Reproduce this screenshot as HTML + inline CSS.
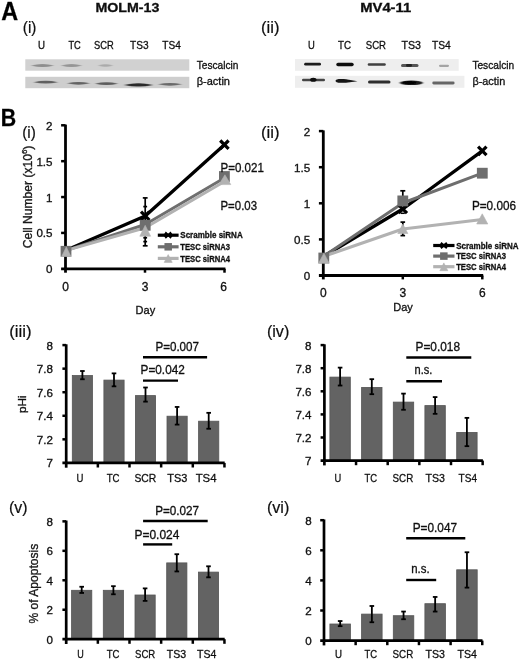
<!DOCTYPE html>
<html><head><meta charset="utf-8"><title>Figure</title>
<style>
html,body{margin:0;padding:0;background:#fff;}
svg{display:block;font-family:"Liberation Sans", sans-serif;}
text{stroke:#111;stroke-width:0.32px;}
text.pl{stroke-width:0.2px;}
</style></head>
<body>
<svg width="520" height="660" viewBox="0 0 520 660">
<defs><filter id="soft" x="0" y="0" width="520" height="660" filterUnits="userSpaceOnUse"><feGaussianBlur stdDeviation="0.4"/></filter></defs>
<g filter="url(#soft)">
<rect width="520" height="660" fill="#fff"/>
<text x="1.2" y="19.6" font-size="25.5" font-weight="bold" textLength="16.9" lengthAdjust="spacingAndGlyphs" fill="#000">A</text>
<text x="95.4" y="11.6" font-size="13.4" font-weight="bold" textLength="64" lengthAdjust="spacingAndGlyphs" fill="#111">MOLM-13</text>
<text x="360.2" y="11.6" font-size="13.4" font-weight="bold" textLength="51" lengthAdjust="spacingAndGlyphs" fill="#111">MV4-11</text>
<text x="22.8" y="33.2" font-size="16" textLength="13.6" lengthAdjust="spacingAndGlyphs" fill="#111" class="pl">(i)</text>
<text x="261.0" y="33.2" font-size="16" textLength="18.4" lengthAdjust="spacingAndGlyphs" fill="#111" class="pl">(ii)</text>
<text x="38" y="48.8" font-size="11.2" textLength="7" lengthAdjust="spacingAndGlyphs" fill="#111">U</text>
<text x="68.4" y="48.8" font-size="11.2" textLength="12.4" lengthAdjust="spacingAndGlyphs" fill="#111">TC</text>
<text x="94" y="48.8" font-size="11.2" textLength="19.7" lengthAdjust="spacingAndGlyphs" fill="#111">SCR</text>
<text x="130" y="48.8" font-size="11.2" textLength="18.5" lengthAdjust="spacingAndGlyphs" fill="#111">TS3</text>
<text x="162.3" y="48.8" font-size="11.2" textLength="18.5" lengthAdjust="spacingAndGlyphs" fill="#111">TS4</text>
<text x="307.9" y="49.0" font-size="11.4" textLength="6.8" lengthAdjust="spacingAndGlyphs" fill="#111">U</text>
<text x="338" y="49.0" font-size="11.4" textLength="13" lengthAdjust="spacingAndGlyphs" fill="#111">TC</text>
<text x="365.8" y="49.0" font-size="11.4" textLength="20.2" lengthAdjust="spacingAndGlyphs" fill="#111">SCR</text>
<text x="401.5" y="49.0" font-size="11.4" textLength="19.5" lengthAdjust="spacingAndGlyphs" fill="#111">TS3</text>
<text x="432" y="49.0" font-size="11.4" textLength="18.8" lengthAdjust="spacingAndGlyphs" fill="#111">TS4</text>
<defs><filter id="blur1" x="-20%" y="-100%" width="140%" height="300%"><feGaussianBlur stdDeviation="0.9 0.6"/></filter><filter id="blur2" x="-20%" y="-100%" width="140%" height="300%"><feGaussianBlur stdDeviation="0.6"/></filter></defs>
<rect x="25.3" y="59.3" width="164" height="11.4" fill="#d1d1d1"/>
<rect x="25.3" y="76.8" width="164" height="11.4" fill="#cecece"/>
<rect x="295" y="59.1" width="163.7" height="11.7" fill="#eeeeee"/>
<rect x="295" y="75.8" width="169.4" height="12.0" fill="#eeeeee"/>
<g>
<path d="M31,65.5 Q42.5,62.3 54,65.5 Q42.5,68.7 31,65.5Z" fill="#8e8e8e" opacity="1.0" filter="url(#blur1)"/>
<path d="M61,65.6 Q71.5,62.599999999999994 82,65.6 Q71.5,68.6 61,65.6Z" fill="#959595" opacity="1.0" filter="url(#blur1)"/>
<path d="M98,65.5 Q105.5,63.1 113,65.5 Q105.5,67.9 98,65.5Z" fill="#aaaaaa" opacity="1.0" filter="url(#blur1)"/>
<path d="M33.5,82.2 Q45.75,79.4 58,82.2 Q45.75,85.0 33.5,82.2Z" fill="#606060" opacity="1.0" filter="url(#blur1)"/>
<path d="M67,83.3 Q78.5,80.5 90,83.3 Q78.5,86.1 67,83.3Z" fill="#646464" opacity="1.0" filter="url(#blur1)"/>
<path d="M95,83.7 Q106.5,80.9 118,83.7 Q106.5,86.5 95,83.7Z" fill="#5c5c5c" opacity="1.0" filter="url(#blur1)"/>
<path d="M124,84.9 Q138.5,81.5 153,84.9 Q138.5,88.30000000000001 124,84.9Z" fill="#2a2a2a" opacity="1.0" filter="url(#blur1)"/>
<path d="M158,84.3 Q170.0,81.5 182,84.3 Q170.0,87.1 158,84.3Z" fill="#6a6a6a" opacity="1.0" filter="url(#blur1)"/>
<rect x="304.2" y="62.800000000000004" width="16.80000000000001" height="2.8" rx="1.4" fill="#1a1a1a" opacity="1.0" filter="url(#blur2)"/>
<rect x="336.3" y="62.8" width="17.399999999999977" height="3.4" rx="1.7" fill="#0a0a0a" opacity="1.0" filter="url(#blur2)"/>
<rect x="367.7" y="63.349999999999994" width="18.100000000000023" height="2.5" rx="1.25" fill="#404040" opacity="1.0" filter="url(#blur2)"/>
<rect x="401" y="64.0" width="17.5" height="3.0" rx="1.5" fill="#555555" opacity="1.0" filter="url(#blur2)"/>
<rect x="406" y="64.10000000000001" width="6" height="2.6" rx="1.3" fill="#222222" opacity="1.0" filter="url(#blur2)"/>
<rect x="439" y="64.7" width="10" height="2.2" rx="1.1" fill="#a4a4a4" opacity="1.0" filter="url(#blur2)"/>
<rect x="302" y="78.7" width="23" height="2.6" rx="1.3" fill="#444444" opacity="1.0" filter="url(#blur2)"/>
<ellipse cx="313.3" cy="79.8" rx="3.2" ry="2.0" fill="#0a0a0a" filter="url(#blur2)"/>
<path d="M335.5,80.7 C335.5,78.7 341,78.6 346,79.3 L357.5,81.3 L346,82.7 C341,83.1 335.5,82.8 335.5,80.7Z" fill="#141414" filter="url(#blur2)"/>
<rect x="368" y="80.5" width="22.5" height="3.0" rx="1.5" fill="#2e2e2e" opacity="1.0" filter="url(#blur2)"/>
<ellipse cx="411.3" cy="82.8" rx="11.6" ry="2.3" fill="#1c1c1c" filter="url(#blur1)"/>
<ellipse cx="409.5" cy="82.7" rx="7" ry="1.6" fill="#000" filter="url(#blur2)"/>
<rect x="432.3" y="81.6" width="22.30000000000001" height="2.8" rx="1.4" fill="#666666" opacity="1.0" filter="url(#blur2)"/>
</g>
<text x="196.7" y="69.4" font-size="11.2" textLength="41.7" lengthAdjust="spacingAndGlyphs" fill="#111">Tescalcin</text>
<text x="196.7" y="85.0" font-size="11.2" textLength="33.3" lengthAdjust="spacingAndGlyphs" fill="#111">β-actin</text>
<text x="472.4" y="69.3" font-size="11.2" textLength="41.8" lengthAdjust="spacingAndGlyphs" fill="#111">Tescalcin</text>
<text x="472.4" y="84.8" font-size="11.2" textLength="32.8" lengthAdjust="spacingAndGlyphs" fill="#111">β-actin</text>
<text x="0.8" y="125.8" font-size="23.8" font-weight="bold" textLength="15.4" lengthAdjust="spacingAndGlyphs" fill="#000">B</text>
<text x="22.2" y="137.9" font-size="16" textLength="13.6" lengthAdjust="spacingAndGlyphs" fill="#111" class="pl">(i)</text>
<text x="260.9" y="138.4" font-size="16" textLength="18.6" lengthAdjust="spacingAndGlyphs" fill="#111" class="pl">(ii)</text>
<line x1="65.5" y1="124.60000000000001" x2="65.5" y2="272.7" stroke="#000" stroke-width="2.8" stroke-linecap="butt"/>
<line x1="61.1" y1="268.8" x2="225.4" y2="268.8" stroke="#000" stroke-width="2.8" stroke-linecap="butt"/>
<line x1="61.1" y1="232.925" x2="65.5" y2="232.925" stroke="#000" stroke-width="2.5" stroke-linecap="butt"/>
<line x1="61.1" y1="197.05" x2="65.5" y2="197.05" stroke="#000" stroke-width="2.5" stroke-linecap="butt"/>
<line x1="61.1" y1="161.175" x2="65.5" y2="161.175" stroke="#000" stroke-width="2.5" stroke-linecap="butt"/>
<line x1="61.1" y1="125.30000000000001" x2="65.5" y2="125.30000000000001" stroke="#000" stroke-width="2.5" stroke-linecap="butt"/>
<line x1="145.0" y1="268.8" x2="145.0" y2="272.7" stroke="#000" stroke-width="2.5" stroke-linecap="butt"/>
<line x1="224.5" y1="268.8" x2="224.5" y2="272.7" stroke="#000" stroke-width="2.5" stroke-linecap="butt"/>
<text x="52.5" y="273.2" font-size="11.6" text-anchor="end" fill="#111">0</text>
<text x="52.5" y="237.3" font-size="11.6" text-anchor="end" fill="#111">0.5</text>
<text x="52.5" y="201.5" font-size="11.6" text-anchor="end" fill="#111">1</text>
<text x="52.5" y="165.6" font-size="11.6" text-anchor="end" fill="#111">1.5</text>
<text x="52.5" y="129.7" font-size="11.6" text-anchor="end" fill="#111">2</text>
<text x="65.5" y="290.8" font-size="12" text-anchor="middle" fill="#111">0</text>
<text x="145.0" y="290.8" font-size="12" text-anchor="middle" fill="#111">3</text>
<text x="223.5" y="290.8" font-size="12" text-anchor="middle" fill="#111">6</text>
<text x="135.6" y="314.2" font-size="11.8" textLength="19.6" lengthAdjust="spacingAndGlyphs" fill="#111">Day</text>
<line x1="145.2" y1="197.9" x2="145.2" y2="246" stroke="#000" stroke-width="1.7" stroke-linecap="butt"/>
<line x1="142.79999999999998" y1="197.9" x2="147.6" y2="197.9" stroke="#000" stroke-width="1.7" stroke-linecap="butt"/>
<line x1="142.79999999999998" y1="245.8" x2="147.6" y2="245.8" stroke="#000" stroke-width="1.7" stroke-linecap="butt"/>
<line x1="143.29999999999998" y1="206.6" x2="147.1" y2="206.6" stroke="#000" stroke-width="1.7" stroke-linecap="butt"/>
<line x1="143.29999999999998" y1="237.8" x2="147.1" y2="237.8" stroke="#000" stroke-width="1.7" stroke-linecap="butt"/>
<line x1="143.29999999999998" y1="241.6" x2="147.1" y2="241.6" stroke="#000" stroke-width="1.7" stroke-linecap="butt"/>
<polyline points="65.5,250.6 145.2,215.9 224.4,144.7" fill="none" stroke="#000" stroke-width="3.3" stroke-linejoin="round"/>
<polyline points="65.5,250.6 145.2,224.5 224.4,178" fill="none" stroke="#6e6e6e" stroke-width="3" stroke-linejoin="round"/>
<polyline points="65.5,250.6 145.2,227.8 224.4,181.5" fill="none" stroke="#b2b2b2" stroke-width="3" stroke-linejoin="round"/>
<path d="M141.0,211.70000000000002L149.39999999999998,220.1M141.0,220.1L149.39999999999998,211.70000000000002" stroke="#000" stroke-width="3.2" fill="none"/>
<path d="M220.20000000000002,140.5L228.6,148.89999999999998M220.20000000000002,148.89999999999998L228.6,140.5" stroke="#000" stroke-width="3.2" fill="none"/>
<rect x="60.6" y="245.9" width="10.8" height="10.8" fill="#6e6e6e"/>
<rect x="139.79999999999998" y="219.9" width="10.8" height="10.8" fill="#6e6e6e"/>
<rect x="219.0" y="171.1" width="10.8" height="10.8" fill="#6e6e6e"/>
<path d="M66.30,246.9L70.9,256.4L61.7,256.4Z" fill="#b2b2b2" stroke="#b2b2b2" stroke-width="0.6" stroke-linejoin="round"/>
<path d="M145.20,225.3L150.6,236.2L139.8,236.2Z" fill="#b2b2b2" stroke="#b2b2b2" stroke-width="0.6" stroke-linejoin="round"/>
<path d="M224.90,174.8L230.8,184.6L219.0,184.6Z" fill="#b2b2b2" stroke="#b2b2b2" stroke-width="0.6" stroke-linejoin="round"/>
<line x1="157.8" y1="235.2" x2="178.6" y2="235.2" stroke="#000" stroke-width="3.2" stroke-linecap="butt"/>
<path d="M163.39999999999998,235.2L165.79999999999998,231.6L168.2,233.79999999999998L170.6,231.6L173.0,235.2L170.6,238.79999999999998L168.2,236.6L165.79999999999998,238.79999999999998Z" fill="#000"/>
<text x="180.29999999999998" y="238.4" font-size="9.4" font-weight="bold" textLength="62.4" lengthAdjust="spacingAndGlyphs" fill="#111">Scramble siRNA</text>
<line x1="157.8" y1="246.79999999999998" x2="178.6" y2="246.79999999999998" stroke="#6e6e6e" stroke-width="3.2" stroke-linecap="butt"/>
<rect x="164.45" y="243.04999999999998" width="7.5" height="7.5" fill="#6e6e6e"/>
<text x="180.29999999999998" y="250.0" font-size="9.4" font-weight="bold" textLength="49.8" lengthAdjust="spacingAndGlyphs" fill="#111">TESC siRNA3</text>
<line x1="157.8" y1="258.4" x2="178.6" y2="258.4" stroke="#b2b2b2" stroke-width="3.2" stroke-linecap="butt"/>
<path d="M168.20,254.59999999999997L172.2,262.4L164.2,262.4Z" fill="#b2b2b2" stroke="#b2b2b2" stroke-width="0.6" stroke-linejoin="round"/>
<text x="180.29999999999998" y="261.6" font-size="9.4" font-weight="bold" textLength="49.8" lengthAdjust="spacingAndGlyphs" fill="#111">TESC siRNA4</text>
<text x="220.5" y="171.6" font-size="12.4" textLength="43.3" lengthAdjust="spacingAndGlyphs" fill="#111">P=0.021</text>
<text x="220.5" y="209.6" font-size="12.4" textLength="36.5" lengthAdjust="spacingAndGlyphs" fill="#111">P=0.03</text>
<text transform="translate(31.8,196.9) rotate(-90)" font-size="12.2" text-anchor="middle" fill="#1a1a1a" textLength="102.6" lengthAdjust="spacingAndGlyphs">Cell Number (x10<tspan font-size="8" dy="-4.6">6</tspan><tspan dy="4.6">)</tspan></text>
<line x1="323.3" y1="130.4" x2="323.3" y2="279.4" stroke="#000" stroke-width="2.8" stroke-linecap="butt"/>
<line x1="318.90000000000003" y1="275.5" x2="483.2" y2="275.5" stroke="#000" stroke-width="2.8" stroke-linecap="butt"/>
<line x1="318.90000000000003" y1="239.4" x2="323.3" y2="239.4" stroke="#000" stroke-width="2.5" stroke-linecap="butt"/>
<line x1="318.90000000000003" y1="203.3" x2="323.3" y2="203.3" stroke="#000" stroke-width="2.5" stroke-linecap="butt"/>
<line x1="318.90000000000003" y1="167.2" x2="323.3" y2="167.2" stroke="#000" stroke-width="2.5" stroke-linecap="butt"/>
<line x1="318.90000000000003" y1="131.1" x2="323.3" y2="131.1" stroke="#000" stroke-width="2.5" stroke-linecap="butt"/>
<line x1="402.8" y1="275.5" x2="402.8" y2="279.4" stroke="#000" stroke-width="2.5" stroke-linecap="butt"/>
<line x1="482.3" y1="275.5" x2="482.3" y2="279.4" stroke="#000" stroke-width="2.5" stroke-linecap="butt"/>
<text x="310.2" y="279.9" font-size="11.6" text-anchor="end" fill="#111">0</text>
<text x="310.2" y="243.8" font-size="11.6" text-anchor="end" fill="#111">0.5</text>
<text x="310.2" y="207.7" font-size="11.6" text-anchor="end" fill="#111">1</text>
<text x="310.2" y="171.6" font-size="11.6" text-anchor="end" fill="#111">1.5</text>
<text x="310.2" y="135.5" font-size="11.6" text-anchor="end" fill="#111">2</text>
<text x="323.3" y="297.4" font-size="12" text-anchor="middle" fill="#111">0</text>
<text x="402.8" y="297.4" font-size="12" text-anchor="middle" fill="#111">3</text>
<text x="482.3" y="297.4" font-size="12" text-anchor="middle" fill="#111">6</text>
<text x="393.2" y="310.6" font-size="11.8" textLength="19.6" lengthAdjust="spacingAndGlyphs" fill="#111">Day</text>
<line x1="402.8" y1="190.8" x2="402.8" y2="200" stroke="#000" stroke-width="1.7" stroke-linecap="butt"/>
<line x1="400.3" y1="190.8" x2="405.3" y2="190.8" stroke="#000" stroke-width="1.7" stroke-linecap="butt"/>
<line x1="400.8" y1="213.3" x2="404.8" y2="213.3" stroke="#000" stroke-width="1.5" stroke-linecap="butt"/>
<line x1="402.8" y1="222" x2="402.8" y2="235.6" stroke="#000" stroke-width="1.7" stroke-linecap="butt"/>
<line x1="400.5" y1="222.1" x2="405.1" y2="222.1" stroke="#000" stroke-width="1.7" stroke-linecap="butt"/>
<line x1="400.5" y1="235.6" x2="405.1" y2="235.6" stroke="#000" stroke-width="1.7" stroke-linecap="butt"/>
<polyline points="323.3,256.5 402.8,209 482.3,150.9" fill="none" stroke="#000" stroke-width="3.3" stroke-linejoin="round"/>
<polyline points="323.3,256.5 402.8,203 482.3,173.2" fill="none" stroke="#6e6e6e" stroke-width="3" stroke-linejoin="round"/>
<polyline points="323.3,256.5 402.8,229 482.3,219.5" fill="none" stroke="#b2b2b2" stroke-width="3" stroke-linejoin="round"/>
<path d="M398.6,204.8L407.0,213.2M398.6,213.2L407.0,204.8" stroke="#000" stroke-width="3.2" fill="none"/>
<path d="M478.1,146.70000000000002L486.5,155.1M478.1,155.1L486.5,146.70000000000002" stroke="#000" stroke-width="3.2" fill="none"/>
<rect x="318.40000000000003" y="252.6" width="10.8" height="10.8" fill="#6e6e6e"/>
<rect x="397.40000000000003" y="195.5" width="10.8" height="10.8" fill="#6e6e6e"/>
<rect x="476.90000000000003" y="167.79999999999998" width="10.8" height="10.8" fill="#6e6e6e"/>
<path d="M323.90,253.2L329.2,263.2L318.6,263.2Z" fill="#b2b2b2" stroke="#b2b2b2" stroke-width="0.6" stroke-linejoin="round"/>
<path d="M402.80,224.0L407.8,233.5L397.8,233.5Z" fill="#b2b2b2" stroke="#b2b2b2" stroke-width="0.6" stroke-linejoin="round"/>
<path d="M482.25,213.8L487.8,224.0L476.7,224.0Z" fill="#b2b2b2" stroke="#b2b2b2" stroke-width="0.6" stroke-linejoin="round"/>
<line x1="433.2" y1="245.5" x2="454.5" y2="245.5" stroke="#000" stroke-width="3.2" stroke-linecap="butt"/>
<path d="M439.05,245.5L441.45000000000005,241.9L443.85,244.1L446.25,241.9L448.65000000000003,245.5L446.25,249.1L443.85,246.9L441.45000000000005,249.1Z" fill="#000"/>
<text x="456.2" y="248.7" font-size="9.4" font-weight="bold" textLength="62.4" lengthAdjust="spacingAndGlyphs" fill="#111">Scramble siRNA</text>
<line x1="433.2" y1="256.1" x2="454.5" y2="256.1" stroke="#6e6e6e" stroke-width="3.2" stroke-linecap="butt"/>
<rect x="440.1" y="252.35000000000002" width="7.5" height="7.5" fill="#6e6e6e"/>
<text x="456.2" y="259.3" font-size="9.4" font-weight="bold" textLength="49.8" lengthAdjust="spacingAndGlyphs" fill="#111">TESC siRNA3</text>
<line x1="433.2" y1="266.7" x2="454.5" y2="266.7" stroke="#b2b2b2" stroke-width="3.2" stroke-linecap="butt"/>
<path d="M443.85,262.9L447.85,270.7L439.85,270.7Z" fill="#b2b2b2" stroke="#b2b2b2" stroke-width="0.6" stroke-linejoin="round"/>
<text x="456.2" y="269.9" font-size="9.4" font-weight="bold" textLength="49.8" lengthAdjust="spacingAndGlyphs" fill="#111">TESC siRNA4</text>
<text x="471.9" y="209.6" font-size="12.4" textLength="44.1" lengthAdjust="spacingAndGlyphs" fill="#111">P=0.006</text>
<text x="9.2" y="337.0" font-size="16" textLength="22.4" lengthAdjust="spacingAndGlyphs" fill="#111" class="pl">(iii)</text>
<rect x="72.30000000000001" y="375.5" width="20.2" height="87.4" fill="#636363" stroke="#555" stroke-width="0.8"/>
<rect x="103.9" y="380.09999999999997" width="20.2" height="82.8" fill="#636363" stroke="#555" stroke-width="0.8"/>
<rect x="135.4" y="395.59999999999997" width="20.2" height="67.3" fill="#636363" stroke="#555" stroke-width="0.8"/>
<rect x="167.0" y="416.2" width="20.2" height="46.7" fill="#636363" stroke="#555" stroke-width="0.8"/>
<rect x="198.6" y="421.2" width="20.2" height="41.7" fill="#636363" stroke="#555" stroke-width="0.8"/>
<line x1="66.2" y1="344.29999999999995" x2="66.2" y2="467.7" stroke="#000" stroke-width="2.7" stroke-linecap="butt"/>
<line x1="62.400000000000006" y1="462.9" x2="224.7" y2="462.9" stroke="#000" stroke-width="2.7" stroke-linecap="butt"/>
<line x1="62.400000000000006" y1="439.34" x2="66.2" y2="439.34" stroke="#000" stroke-width="2.5" stroke-linecap="butt"/>
<line x1="62.400000000000006" y1="415.7799999999999" x2="66.2" y2="415.7799999999999" stroke="#000" stroke-width="2.5" stroke-linecap="butt"/>
<line x1="62.400000000000006" y1="392.22" x2="66.2" y2="392.22" stroke="#000" stroke-width="2.5" stroke-linecap="butt"/>
<line x1="62.400000000000006" y1="368.65999999999997" x2="66.2" y2="368.65999999999997" stroke="#000" stroke-width="2.5" stroke-linecap="butt"/>
<line x1="62.400000000000006" y1="345.09999999999997" x2="66.2" y2="345.09999999999997" stroke="#000" stroke-width="2.5" stroke-linecap="butt"/>
<line x1="97.85" y1="462.9" x2="97.85" y2="467.5" stroke="#000" stroke-width="2.5" stroke-linecap="butt"/>
<line x1="129.5" y1="462.9" x2="129.5" y2="467.5" stroke="#000" stroke-width="2.5" stroke-linecap="butt"/>
<line x1="161.14999999999998" y1="462.9" x2="161.14999999999998" y2="467.5" stroke="#000" stroke-width="2.5" stroke-linecap="butt"/>
<line x1="192.8" y1="462.9" x2="192.8" y2="467.5" stroke="#000" stroke-width="2.5" stroke-linecap="butt"/>
<line x1="224.45" y1="462.9" x2="224.45" y2="467.5" stroke="#000" stroke-width="2.5" stroke-linecap="butt"/>
<text x="52.9" y="467.3" font-size="11.6" text-anchor="end" fill="#111">7</text>
<text x="52.9" y="443.7" font-size="11.6" text-anchor="end" fill="#111">7.2</text>
<text x="52.9" y="420.2" font-size="11.6" text-anchor="end" fill="#111">7.4</text>
<text x="52.9" y="396.6" font-size="11.6" text-anchor="end" fill="#111">7.6</text>
<text x="52.9" y="373.1" font-size="11.6" text-anchor="end" fill="#111">7.8</text>
<text x="52.9" y="349.5" font-size="11.6" text-anchor="end" fill="#111">8</text>
<text x="76.6" y="481.6" font-size="11.6" textLength="6.9" lengthAdjust="spacingAndGlyphs" fill="#111">U</text>
<text x="106.7" y="481.6" font-size="11.6" textLength="12.8" lengthAdjust="spacingAndGlyphs" fill="#111">TC</text>
<text x="134.4" y="481.6" font-size="11.6" textLength="21.8" lengthAdjust="spacingAndGlyphs" fill="#111">SCR</text>
<text x="167.3" y="481.6" font-size="11.6" textLength="20.1" lengthAdjust="spacingAndGlyphs" fill="#111">TS3</text>
<text x="195.7" y="481.6" font-size="11.6" textLength="20.8" lengthAdjust="spacingAndGlyphs" fill="#111">TS4</text>
<line x1="82.4" y1="371.01599999999996" x2="82.4" y2="379.262" stroke="#000" stroke-width="1.8" stroke-linecap="butt"/>
<line x1="80.10000000000001" y1="371.01599999999996" x2="84.7" y2="371.01599999999996" stroke="#000" stroke-width="1.8" stroke-linecap="butt"/>
<line x1="80.10000000000001" y1="379.262" x2="84.7" y2="379.262" stroke="#000" stroke-width="1.8" stroke-linecap="butt"/>
<line x1="114.0" y1="373.372" x2="114.0" y2="386.3299999999999" stroke="#000" stroke-width="1.8" stroke-linecap="butt"/>
<line x1="111.7" y1="373.372" x2="116.3" y2="373.372" stroke="#000" stroke-width="1.8" stroke-linecap="butt"/>
<line x1="111.7" y1="386.3299999999999" x2="116.3" y2="386.3299999999999" stroke="#000" stroke-width="1.8" stroke-linecap="butt"/>
<line x1="145.5" y1="387.50800000000004" x2="145.5" y2="401.644" stroke="#000" stroke-width="1.8" stroke-linecap="butt"/>
<line x1="143.2" y1="387.50800000000004" x2="147.8" y2="387.50800000000004" stroke="#000" stroke-width="1.8" stroke-linecap="butt"/>
<line x1="143.2" y1="401.644" x2="147.8" y2="401.644" stroke="#000" stroke-width="1.8" stroke-linecap="butt"/>
<line x1="177.1" y1="406.94500000000005" x2="177.1" y2="424.61499999999995" stroke="#000" stroke-width="1.8" stroke-linecap="butt"/>
<line x1="174.79999999999998" y1="406.94500000000005" x2="179.4" y2="406.94500000000005" stroke="#000" stroke-width="1.8" stroke-linecap="butt"/>
<line x1="174.79999999999998" y1="424.61499999999995" x2="179.4" y2="424.61499999999995" stroke="#000" stroke-width="1.8" stroke-linecap="butt"/>
<line x1="208.7" y1="412.835" x2="208.7" y2="428.73799999999994" stroke="#000" stroke-width="1.8" stroke-linecap="butt"/>
<line x1="206.39999999999998" y1="412.835" x2="211.0" y2="412.835" stroke="#000" stroke-width="1.8" stroke-linecap="butt"/>
<line x1="206.39999999999998" y1="428.73799999999994" x2="211.0" y2="428.73799999999994" stroke="#000" stroke-width="1.8" stroke-linecap="butt"/>
<line x1="143" y1="357.2" x2="207.1" y2="357.2" stroke="#000" stroke-width="2.4" stroke-linecap="butt"/>
<text x="155.4" y="350.9" font-size="12.4" textLength="43.6" lengthAdjust="spacingAndGlyphs" fill="#111">P=0.007</text>
<line x1="143" y1="380.6" x2="178" y2="380.6" stroke="#000" stroke-width="2.4" stroke-linecap="butt"/>
<text x="140.6" y="373.8" font-size="12.4" textLength="44.2" lengthAdjust="spacingAndGlyphs" fill="#111">P=0.042</text>
<text transform="translate(26.2,404.3) rotate(-90)" font-size="11.5" text-anchor="middle" fill="#111" textLength="17.6" lengthAdjust="spacingAndGlyphs">pHi</text>
<text x="266.9" y="337.2" font-size="16" textLength="22.4" lengthAdjust="spacingAndGlyphs" fill="#111" class="pl">(iv)</text>
<rect x="329.9" y="377.09999999999997" width="20.4" height="83.5" fill="#636363" stroke="#555" stroke-width="0.8"/>
<rect x="361.59999999999997" y="387.4" width="20.4" height="73.2" fill="#636363" stroke="#555" stroke-width="0.8"/>
<rect x="393.29999999999995" y="402.09999999999997" width="20.4" height="58.5" fill="#636363" stroke="#555" stroke-width="0.8"/>
<rect x="424.9" y="405.59999999999997" width="20.4" height="55.0" fill="#636363" stroke="#555" stroke-width="0.8"/>
<rect x="456.7" y="432.4" width="20.4" height="28.2" fill="#636363" stroke="#555" stroke-width="0.8"/>
<line x1="324.4" y1="344.3" x2="324.4" y2="465.40000000000003" stroke="#000" stroke-width="2.7" stroke-linecap="butt"/>
<line x1="320.59999999999997" y1="460.6" x2="482.9" y2="460.6" stroke="#000" stroke-width="2.7" stroke-linecap="butt"/>
<line x1="320.59999999999997" y1="437.5" x2="324.4" y2="437.5" stroke="#000" stroke-width="2.5" stroke-linecap="butt"/>
<line x1="320.59999999999997" y1="414.4" x2="324.4" y2="414.4" stroke="#000" stroke-width="2.5" stroke-linecap="butt"/>
<line x1="320.59999999999997" y1="391.30000000000007" x2="324.4" y2="391.30000000000007" stroke="#000" stroke-width="2.5" stroke-linecap="butt"/>
<line x1="320.59999999999997" y1="368.20000000000005" x2="324.4" y2="368.20000000000005" stroke="#000" stroke-width="2.5" stroke-linecap="butt"/>
<line x1="320.59999999999997" y1="345.1" x2="324.4" y2="345.1" stroke="#000" stroke-width="2.5" stroke-linecap="butt"/>
<line x1="356.04999999999995" y1="460.6" x2="356.04999999999995" y2="465.20000000000005" stroke="#000" stroke-width="2.5" stroke-linecap="butt"/>
<line x1="387.7" y1="460.6" x2="387.7" y2="465.20000000000005" stroke="#000" stroke-width="2.5" stroke-linecap="butt"/>
<line x1="419.34999999999997" y1="460.6" x2="419.34999999999997" y2="465.20000000000005" stroke="#000" stroke-width="2.5" stroke-linecap="butt"/>
<line x1="451.0" y1="460.6" x2="451.0" y2="465.20000000000005" stroke="#000" stroke-width="2.5" stroke-linecap="butt"/>
<line x1="482.65" y1="460.6" x2="482.65" y2="465.20000000000005" stroke="#000" stroke-width="2.5" stroke-linecap="butt"/>
<text x="311.5" y="465.0" font-size="11.6" text-anchor="end" fill="#111">7</text>
<text x="311.5" y="441.9" font-size="11.6" text-anchor="end" fill="#111">7.2</text>
<text x="311.5" y="418.8" font-size="11.6" text-anchor="end" fill="#111">7.4</text>
<text x="311.5" y="395.7" font-size="11.6" text-anchor="end" fill="#111">7.6</text>
<text x="311.5" y="372.6" font-size="11.6" text-anchor="end" fill="#111">7.8</text>
<text x="311.5" y="349.5" font-size="11.6" text-anchor="end" fill="#111">8</text>
<text x="334.6" y="481.9" font-size="11.6" textLength="6.7" lengthAdjust="spacingAndGlyphs" fill="#111">U</text>
<text x="364.4" y="481.9" font-size="11.6" textLength="12.6" lengthAdjust="spacingAndGlyphs" fill="#111">TC</text>
<text x="392.6" y="481.9" font-size="11.6" textLength="20.6" lengthAdjust="spacingAndGlyphs" fill="#111">SCR</text>
<text x="425.6" y="481.9" font-size="11.6" textLength="19.4" lengthAdjust="spacingAndGlyphs" fill="#111">TS3</text>
<text x="458.6" y="481.9" font-size="11.6" textLength="18.4" lengthAdjust="spacingAndGlyphs" fill="#111">TS4</text>
<line x1="340.1" y1="367.62250000000006" x2="340.1" y2="385.525" stroke="#000" stroke-width="1.8" stroke-linecap="butt"/>
<line x1="337.8" y1="367.62250000000006" x2="342.40000000000003" y2="367.62250000000006" stroke="#000" stroke-width="1.8" stroke-linecap="butt"/>
<line x1="337.8" y1="385.525" x2="342.40000000000003" y2="385.525" stroke="#000" stroke-width="1.8" stroke-linecap="butt"/>
<line x1="371.8" y1="379.1725" x2="371.8" y2="394.1875" stroke="#000" stroke-width="1.8" stroke-linecap="butt"/>
<line x1="369.5" y1="379.1725" x2="374.1" y2="379.1725" stroke="#000" stroke-width="1.8" stroke-linecap="butt"/>
<line x1="369.5" y1="394.1875" x2="374.1" y2="394.1875" stroke="#000" stroke-width="1.8" stroke-linecap="butt"/>
<line x1="403.5" y1="393.61" x2="403.5" y2="409.78" stroke="#000" stroke-width="1.8" stroke-linecap="butt"/>
<line x1="401.2" y1="393.61" x2="405.8" y2="393.61" stroke="#000" stroke-width="1.8" stroke-linecap="butt"/>
<line x1="401.2" y1="409.78" x2="405.8" y2="409.78" stroke="#000" stroke-width="1.8" stroke-linecap="butt"/>
<line x1="435.1" y1="397.07500000000005" x2="435.1" y2="413.8225" stroke="#000" stroke-width="1.8" stroke-linecap="butt"/>
<line x1="432.8" y1="397.07500000000005" x2="437.40000000000003" y2="397.07500000000005" stroke="#000" stroke-width="1.8" stroke-linecap="butt"/>
<line x1="432.8" y1="413.8225" x2="437.40000000000003" y2="413.8225" stroke="#000" stroke-width="1.8" stroke-linecap="butt"/>
<line x1="466.90000000000003" y1="417.865" x2="466.90000000000003" y2="446.1625" stroke="#000" stroke-width="1.8" stroke-linecap="butt"/>
<line x1="464.6" y1="417.865" x2="469.20000000000005" y2="417.865" stroke="#000" stroke-width="1.8" stroke-linecap="butt"/>
<line x1="464.6" y1="446.1625" x2="469.20000000000005" y2="446.1625" stroke="#000" stroke-width="1.8" stroke-linecap="butt"/>
<line x1="406.3" y1="357.5" x2="471.3" y2="357.5" stroke="#000" stroke-width="2.4" stroke-linecap="butt"/>
<text x="415.5" y="350.5" font-size="12.4" textLength="44.5" lengthAdjust="spacingAndGlyphs" fill="#111">P=0.018</text>
<line x1="406.3" y1="381.3" x2="442" y2="381.3" stroke="#000" stroke-width="2.4" stroke-linecap="butt"/>
<text x="414.6" y="373.7" font-size="12.8" textLength="17.8" lengthAdjust="spacingAndGlyphs" fill="#111">n.s.</text>
<text x="9.0" y="513.1" font-size="16" textLength="18.5" lengthAdjust="spacingAndGlyphs" fill="#111" class="pl">(v)</text>
<rect x="71.60000000000001" y="590.3" width="20.2" height="48.9" fill="#636363" stroke="#555" stroke-width="0.8"/>
<rect x="103.30000000000001" y="590.3" width="20.2" height="48.9" fill="#636363" stroke="#555" stroke-width="0.8"/>
<rect x="135.0" y="595.0" width="20.2" height="44.2" fill="#636363" stroke="#555" stroke-width="0.8"/>
<rect x="166.70000000000002" y="562.9" width="20.2" height="76.3" fill="#636363" stroke="#555" stroke-width="0.8"/>
<rect x="198.4" y="572.1" width="20.2" height="67.1" fill="#636363" stroke="#555" stroke-width="0.8"/>
<line x1="66.2" y1="520.5600000000001" x2="66.2" y2="644.0" stroke="#000" stroke-width="2.7" stroke-linecap="butt"/>
<line x1="62.400000000000006" y1="639.2" x2="224.7" y2="639.2" stroke="#000" stroke-width="2.7" stroke-linecap="butt"/>
<line x1="62.400000000000006" y1="609.74" x2="66.2" y2="609.74" stroke="#000" stroke-width="2.5" stroke-linecap="butt"/>
<line x1="62.400000000000006" y1="580.2800000000001" x2="66.2" y2="580.2800000000001" stroke="#000" stroke-width="2.5" stroke-linecap="butt"/>
<line x1="62.400000000000006" y1="550.82" x2="66.2" y2="550.82" stroke="#000" stroke-width="2.5" stroke-linecap="butt"/>
<line x1="62.400000000000006" y1="521.36" x2="66.2" y2="521.36" stroke="#000" stroke-width="2.5" stroke-linecap="butt"/>
<line x1="97.85" y1="639.2" x2="97.85" y2="643.8000000000001" stroke="#000" stroke-width="2.5" stroke-linecap="butt"/>
<line x1="129.5" y1="639.2" x2="129.5" y2="643.8000000000001" stroke="#000" stroke-width="2.5" stroke-linecap="butt"/>
<line x1="161.14999999999998" y1="639.2" x2="161.14999999999998" y2="643.8000000000001" stroke="#000" stroke-width="2.5" stroke-linecap="butt"/>
<line x1="192.8" y1="639.2" x2="192.8" y2="643.8000000000001" stroke="#000" stroke-width="2.5" stroke-linecap="butt"/>
<line x1="224.45" y1="639.2" x2="224.45" y2="643.8000000000001" stroke="#000" stroke-width="2.5" stroke-linecap="butt"/>
<text x="52.9" y="643.6" font-size="11.6" text-anchor="end" fill="#111">0</text>
<text x="52.9" y="614.1" font-size="11.6" text-anchor="end" fill="#111">2</text>
<text x="52.9" y="584.7" font-size="11.6" text-anchor="end" fill="#111">4</text>
<text x="52.9" y="555.2" font-size="11.6" text-anchor="end" fill="#111">6</text>
<text x="52.9" y="525.8" font-size="11.6" text-anchor="end" fill="#111">8</text>
<text x="77.3" y="657.6" font-size="11.6" textLength="6.5" lengthAdjust="spacingAndGlyphs" fill="#111">U</text>
<text x="106.7" y="657.6" font-size="11.6" textLength="12.7" lengthAdjust="spacingAndGlyphs" fill="#111">TC</text>
<text x="135" y="657.6" font-size="11.6" textLength="20.2" lengthAdjust="spacingAndGlyphs" fill="#111">SCR</text>
<text x="166.8" y="657.6" font-size="11.6" textLength="19.4" lengthAdjust="spacingAndGlyphs" fill="#111">TS3</text>
<text x="197" y="657.6" font-size="11.6" textLength="19.3" lengthAdjust="spacingAndGlyphs" fill="#111">TS4</text>
<line x1="81.7" y1="586.7612" x2="81.7" y2="592.9478" stroke="#000" stroke-width="1.8" stroke-linecap="butt"/>
<line x1="79.4" y1="586.7612" x2="84.0" y2="586.7612" stroke="#000" stroke-width="1.8" stroke-linecap="butt"/>
<line x1="79.4" y1="592.9478" x2="84.0" y2="592.9478" stroke="#000" stroke-width="1.8" stroke-linecap="butt"/>
<line x1="113.4" y1="586.172" x2="113.4" y2="594.2735" stroke="#000" stroke-width="1.8" stroke-linecap="butt"/>
<line x1="111.10000000000001" y1="586.172" x2="115.7" y2="586.172" stroke="#000" stroke-width="1.8" stroke-linecap="butt"/>
<line x1="111.10000000000001" y1="594.2735" x2="115.7" y2="594.2735" stroke="#000" stroke-width="1.8" stroke-linecap="butt"/>
<line x1="145.1" y1="588.3815000000001" x2="145.1" y2="600.902" stroke="#000" stroke-width="1.8" stroke-linecap="butt"/>
<line x1="142.79999999999998" y1="588.3815000000001" x2="147.4" y2="588.3815000000001" stroke="#000" stroke-width="1.8" stroke-linecap="butt"/>
<line x1="142.79999999999998" y1="600.902" x2="147.4" y2="600.902" stroke="#000" stroke-width="1.8" stroke-linecap="butt"/>
<line x1="176.8" y1="554.2079000000001" x2="176.8" y2="571.442" stroke="#000" stroke-width="1.8" stroke-linecap="butt"/>
<line x1="174.5" y1="554.2079000000001" x2="179.10000000000002" y2="554.2079000000001" stroke="#000" stroke-width="1.8" stroke-linecap="butt"/>
<line x1="174.5" y1="571.442" x2="179.10000000000002" y2="571.442" stroke="#000" stroke-width="1.8" stroke-linecap="butt"/>
<line x1="208.5" y1="566.2865" x2="208.5" y2="577.3340000000001" stroke="#000" stroke-width="1.8" stroke-linecap="butt"/>
<line x1="206.2" y1="566.2865" x2="210.8" y2="566.2865" stroke="#000" stroke-width="1.8" stroke-linecap="butt"/>
<line x1="206.2" y1="577.3340000000001" x2="210.8" y2="577.3340000000001" stroke="#000" stroke-width="1.8" stroke-linecap="butt"/>
<line x1="143.1" y1="521" x2="207.7" y2="521" stroke="#000" stroke-width="2.4" stroke-linecap="butt"/>
<text x="155.2" y="514.8" font-size="12.4" textLength="43.9" lengthAdjust="spacingAndGlyphs" fill="#111">P=0.027</text>
<line x1="143.1" y1="544.4" x2="172.2" y2="544.4" stroke="#000" stroke-width="2.4" stroke-linecap="butt"/>
<text x="134.5" y="538.5" font-size="12.4" textLength="44.9" lengthAdjust="spacingAndGlyphs" fill="#111">P=0.024</text>
<text transform="translate(38.4,583.7) rotate(-90)" font-size="12.5" text-anchor="middle" fill="#1a1a1a" textLength="79.8" lengthAdjust="spacingAndGlyphs">% of Apoptosis</text>
<text x="266.9" y="513.0" font-size="16" textLength="22.4" lengthAdjust="spacingAndGlyphs" fill="#111" class="pl">(vi)</text>
<rect x="329.9" y="624.0" width="20.5" height="16.6" fill="#636363" stroke="#555" stroke-width="0.8"/>
<rect x="361.59999999999997" y="614.1" width="20.5" height="26.5" fill="#636363" stroke="#555" stroke-width="0.8"/>
<rect x="393.29999999999995" y="615.6999999999999" width="20.5" height="24.9" fill="#636363" stroke="#555" stroke-width="0.8"/>
<rect x="424.9" y="603.6999999999999" width="20.5" height="36.9" fill="#636363" stroke="#555" stroke-width="0.8"/>
<rect x="456.7" y="569.8" width="20.5" height="70.8" fill="#636363" stroke="#555" stroke-width="0.8"/>
<line x1="324.0" y1="519.4000000000001" x2="324.0" y2="645.4" stroke="#000" stroke-width="2.7" stroke-linecap="butt"/>
<line x1="320.2" y1="640.6" x2="482.5" y2="640.6" stroke="#000" stroke-width="2.7" stroke-linecap="butt"/>
<line x1="320.2" y1="610.5" x2="324.0" y2="610.5" stroke="#000" stroke-width="2.5" stroke-linecap="butt"/>
<line x1="320.2" y1="580.4" x2="324.0" y2="580.4" stroke="#000" stroke-width="2.5" stroke-linecap="butt"/>
<line x1="320.2" y1="550.3" x2="324.0" y2="550.3" stroke="#000" stroke-width="2.5" stroke-linecap="butt"/>
<line x1="320.2" y1="520.2" x2="324.0" y2="520.2" stroke="#000" stroke-width="2.5" stroke-linecap="butt"/>
<line x1="355.65" y1="640.6" x2="355.65" y2="645.2" stroke="#000" stroke-width="2.5" stroke-linecap="butt"/>
<line x1="387.3" y1="640.6" x2="387.3" y2="645.2" stroke="#000" stroke-width="2.5" stroke-linecap="butt"/>
<line x1="418.95" y1="640.6" x2="418.95" y2="645.2" stroke="#000" stroke-width="2.5" stroke-linecap="butt"/>
<line x1="450.6" y1="640.6" x2="450.6" y2="645.2" stroke="#000" stroke-width="2.5" stroke-linecap="butt"/>
<line x1="482.25" y1="640.6" x2="482.25" y2="645.2" stroke="#000" stroke-width="2.5" stroke-linecap="butt"/>
<text x="311.8" y="645.0" font-size="11.6" text-anchor="end" fill="#111">0</text>
<text x="311.8" y="614.9" font-size="11.6" text-anchor="end" fill="#111">2</text>
<text x="311.8" y="584.8" font-size="11.6" text-anchor="end" fill="#111">4</text>
<text x="311.8" y="554.7" font-size="11.6" text-anchor="end" fill="#111">6</text>
<text x="311.8" y="524.6" font-size="11.6" text-anchor="end" fill="#111">8</text>
<text x="335" y="657.6" font-size="11.6" textLength="7" lengthAdjust="spacingAndGlyphs" fill="#111">U</text>
<text x="364.4" y="657.6" font-size="11.6" textLength="12.6" lengthAdjust="spacingAndGlyphs" fill="#111">TC</text>
<text x="392.6" y="657.6" font-size="11.6" textLength="20.6" lengthAdjust="spacingAndGlyphs" fill="#111">SCR</text>
<text x="425.6" y="657.6" font-size="11.6" textLength="19.4" lengthAdjust="spacingAndGlyphs" fill="#111">TS3</text>
<text x="457.6" y="657.6" font-size="11.6" textLength="19.4" lengthAdjust="spacingAndGlyphs" fill="#111">TS4</text>
<line x1="340.15" y1="621.035" x2="340.15" y2="626.152" stroke="#000" stroke-width="1.8" stroke-linecap="butt"/>
<line x1="337.84999999999997" y1="621.035" x2="342.45" y2="621.035" stroke="#000" stroke-width="1.8" stroke-linecap="butt"/>
<line x1="337.84999999999997" y1="626.152" x2="342.45" y2="626.152" stroke="#000" stroke-width="1.8" stroke-linecap="butt"/>
<line x1="371.84999999999997" y1="605.985" x2="371.84999999999997" y2="622.239" stroke="#000" stroke-width="1.8" stroke-linecap="butt"/>
<line x1="369.54999999999995" y1="605.985" x2="374.15" y2="605.985" stroke="#000" stroke-width="1.8" stroke-linecap="butt"/>
<line x1="369.54999999999995" y1="622.239" x2="374.15" y2="622.239" stroke="#000" stroke-width="1.8" stroke-linecap="butt"/>
<line x1="403.54999999999995" y1="611.5535" x2="403.54999999999995" y2="619.229" stroke="#000" stroke-width="1.8" stroke-linecap="butt"/>
<line x1="401.24999999999994" y1="611.5535" x2="405.84999999999997" y2="611.5535" stroke="#000" stroke-width="1.8" stroke-linecap="butt"/>
<line x1="401.24999999999994" y1="619.229" x2="405.84999999999997" y2="619.229" stroke="#000" stroke-width="1.8" stroke-linecap="butt"/>
<line x1="435.15" y1="596.955" x2="435.15" y2="611.5535" stroke="#000" stroke-width="1.8" stroke-linecap="butt"/>
<line x1="432.84999999999997" y1="596.955" x2="437.45" y2="596.955" stroke="#000" stroke-width="1.8" stroke-linecap="butt"/>
<line x1="432.84999999999997" y1="611.5535" x2="437.45" y2="611.5535" stroke="#000" stroke-width="1.8" stroke-linecap="butt"/>
<line x1="466.95" y1="552.2565" x2="466.95" y2="587.624" stroke="#000" stroke-width="1.8" stroke-linecap="butt"/>
<line x1="464.65" y1="552.2565" x2="469.25" y2="552.2565" stroke="#000" stroke-width="1.8" stroke-linecap="butt"/>
<line x1="464.65" y1="587.624" x2="469.25" y2="587.624" stroke="#000" stroke-width="1.8" stroke-linecap="butt"/>
<line x1="406.2" y1="538.3" x2="465.3" y2="538.3" stroke="#000" stroke-width="2.4" stroke-linecap="butt"/>
<text x="412.7" y="532" font-size="12.4" textLength="44.4" lengthAdjust="spacingAndGlyphs" fill="#111">P=0.047</text>
<line x1="406.2" y1="580" x2="436.2" y2="580" stroke="#000" stroke-width="2.4" stroke-linecap="butt"/>
<text x="411.2" y="572.9" font-size="12.8" textLength="18.4" lengthAdjust="spacingAndGlyphs" fill="#111">n.s.</text>
</g>
</svg>
</body></html>
